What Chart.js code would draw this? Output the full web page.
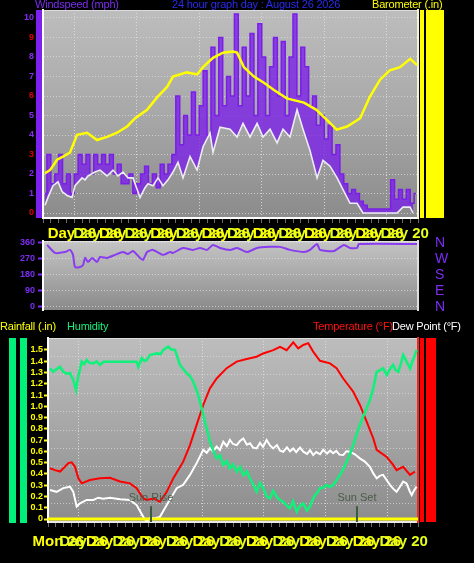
<!DOCTYPE html>
<html><head><meta charset="utf-8">
<script src="https://cdn.jsdelivr.net/npm/chart.js@4/dist/chart.umd.min.js"></script>
<style>
html,body{margin:0;padding:0;background:#000;width:474px;height:563px;overflow:hidden;position:relative;font-family:"Liberation Sans",Arial,sans-serif;}
canvas{position:absolute;left:0}
.t{position:absolute;font-size:11px;line-height:12px;white-space:nowrap;letter-spacing:-0.2px;z-index:5}
.s{position:absolute}
</style></head><body>
<div class="s" style="left:36px;top:10px;width:6px;height:208px;background:#7d22ee"></div>
<div class="s" style="left:420px;top:10px;width:24px;height:208px;background:#ffff00"></div>
<div class="s" style="left:424px;top:10px;width:2px;height:208px;background:#000"></div>
<div class="s" style="left:9px;top:338px;width:7px;height:185px;background:#00f07a"></div>
<div class="s" style="left:20px;top:338px;width:7px;height:185px;background:#00f07a"></div>
<div class="s" style="left:420px;top:338px;width:16px;height:184px;background:#ff0000"></div>
<div class="s" style="left:424px;top:338px;width:2px;height:184px;background:#000"></div>
<canvas id="cA" width="474" height="242" style="top:0"></canvas>
<canvas id="cB" width="474" height="80" style="top:236px"></canvas>
<canvas id="cC" width="474" height="233" style="top:330px"></canvas>
<div class="t" style="left:35px;top:-2px;color:#7b2cf0">Windspeed (mph)</div>
<div class="t" style="left:172px;top:-2px;color:#2a2af0">24 hour graph day : August 26 2026</div>
<div class="t" style="left:372px;top:-2px;color:#ffff00">Barometer (.in)</div>
<div class="t" style="left:0;top:320px;color:#ffff00">Rainfall (.in)</div>
<div class="t" style="left:67px;top:320px;color:#19f07e">Humidity</div>
<div class="t" style="left:313px;top:320px;color:#ff1010">Temperature (°F)</div>
<div class="t" style="left:392px;top:320px;color:#ffffff">Dew Point (°F)</div>
<script>
// ---------- DATA ----------
const baroHours = [0.13,0.45,0.9,1.28,1.73,2.18,2.82,3.46,4.1,4.74,5.38,5.9,6.66,7.3,7.94,8.32,9.2,9.86,10.24,10.88,11.52,12.16,12.42,12.86,13.5,14.14,14.78,15.6,16.7,17.5,17.98,18.18,18.8,19.46,20.1,20.3,20.9,21.57,22.2,22.85,23.5,23.94];
const baroValues = [29.843,29.846,29.856,29.859,29.863,29.880,29.882,29.875,29.878,29.882,29.888,29.896,29.904,29.916,29.926,29.936,29.940,29.938,29.945,29.954,29.959,29.960,29.959,29.945,29.936,29.930,29.923,29.915,29.911,29.904,29.897,29.894,29.885,29.888,29.894,29.896,29.916,29.933,29.942,29.945,29.953,29.947];

const windAvgHours = [0.13,0.32,0.64,0.96,1.22,1.54,1.86,2.05,2.5,2.69,2.88,3.33,3.65,4.1,4.48,4.8,5.12,5.44,5.76,6.21,6.53,6.72,7.04,7.36,7.68,8.0,8.32,8.64,8.96,9.41,9.86,10.24,10.69,10.88,11.33,11.97,12.42,12.8,13.25,13.7,14.08,14.53,14.98,15.36,15.81,16.26,16.64,17.09,17.54,17.92,18.37,18.82,19.2,19.65,20.1,20.48,21.38,22.21,22.66,23.04,23.49,23.68];
const windAvgValues = [0.4,0.8,1.4,1.6,1.1,0.9,0.8,1.4,1.8,1.7,1.9,2.1,2.2,1.9,2.2,1.9,2.1,1.8,1.8,0.8,1.3,1.5,1.4,1.8,1.4,1.7,2.1,2.6,1.8,2.9,2.2,3.4,4.1,3.1,4.4,4.3,3.9,4.6,3.9,4.6,3.9,4.3,3.6,4.3,3.9,5.3,4.3,3.2,1.8,2.7,2.4,1.8,1.2,0.5,0.5,0,0,0,0,0.3,0.3,0];

const gustValues = [
  1.0,3.0,1.5,2.0,3.0,1.5,2.0,1.0,
  2.0,3.0,2.5,3.0,2.0,3.0,2.5,3.0,
  2.5,3.0,2.0,2.5,1.5,1.5,2.0,1.0,
  1.5,2.0,2.4,1.5,2.0,1.3,2.5,2.0,
  2.5,3.0,6.0,3.5,5.0,4.0,6.2,4.0,
  5.5,7.3,4.0,8.5,5.0,9.0,5.5,7.0,
  6.0,10.2,5.5,8.5,6.0,9.2,5.0,9.7,
  8.0,5.0,7.5,9.0,6.0,8.8,5.0,8.0,
  10.2,6.0,8.5,7.5,5.5,6.0,4.5,5.0,
  3.8,4.5,3.0,3.5,2.0,1.5,1.0,1.2,
  1.0,0.6,0.4,0.2,0.2,0.2,0.2,0.2,
  0.2,1.7,0.7,1.2,0.7,1.2,0.5,1.0];
const gustHours = gustValues.map((_, i) => i * 0.25 + 0.125);

const dirHours = [0.26,0.77,1.41,1.73,1.92,2.05,2.37,2.56,2.69,2.88,3.14,3.46,3.65,4.1,4.61,5.12,5.44,5.76,6.21,6.4,6.66,7.04,7.68,8.13,8.32,8.96,9.6,10.05,10.5,10.88,11.33,11.97,12.42,13.06,13.7,14.53,15.17,15.81,16.7,17.09,17.54,17.73,18.62,19.26,19.65,20.1,20.22,23.94];
const dirValues = [349,304,309,321,293,225,225,236,276,253,276,253,281,276,293,309,298,315,276,264,309,321,293,309,304,332,321,332,321,349,332,321,332,309,332,338,338,321,309,321,354,321,315,349,332,332,354,354];

const tempHours = [0.13,0.45,0.78,1.1,1.32,1.54,1.75,1.97,2.19,2.72,3.37,4.02,4.67,5.32,5.75,6.18,6.4,6.83,7.26,7.7,8.13,8.77,9.21,9.64,10.07,10.5,10.94,11.59,12.24,12.89,13.53,13.96,14.61,15.05,15.48,15.91,16.23,16.56,16.88,17.2,17.64,18.29,18.72,19.15,19.8,20.23,20.67,21.1,21.32,21.97,22.39,22.61,23.04,23.48,23.8];
const tempValues = [54.6,54.1,53.7,55.0,56.0,56.2,55.0,51.9,50.5,51.4,51.9,52.0,51.0,50.5,49.2,46.4,46.0,46.4,45.5,48.2,51.9,56.4,60.9,66.4,71.8,76.3,79.0,81.8,83.6,84.3,84.9,85.8,86.7,87.6,86.7,88.8,87.2,88.1,88.6,86.3,83.8,83.1,81.8,79.0,75.4,71.8,67.3,62.7,59.6,57.7,55.5,54.1,55.0,52.8,53.7];

const dewHours = [0.13,0.56,0.99,1.43,1.64,1.86,2.08,2.51,2.94,3.26,3.59,4.02,4.67,5.32,5.75,6.18,6.4,6.61,6.94,7.26,7.7,8.35,8.77,9.21,9.64,10.07,10.3,10.5,10.7,10.94,11.15,11.37,11.6,11.8,12.0,12.24,12.45,12.67,12.9,13.1,13.3,13.53,13.75,13.95,14.18,14.4,14.61,14.85,15.05,15.26,15.5,15.7,15.91,16.1,16.35,16.56,16.8,17.0,17.2,17.4,17.65,17.85,18.1,18.3,18.5,18.7,18.9,19.15,19.35,19.58,19.9,20.23,20.55,20.88,21.1,21.32,21.54,21.74,21.96,22.18,22.4,22.61,22.82,23.04,23.26,23.45,23.59,23.75,23.91];
const dewValues = [48.7,48.2,49.2,49.6,48.2,44.2,45.1,46.0,46.0,46.6,46.3,46.6,46.2,46.0,44.6,41.4,40.1,41.0,41.0,41.4,44.6,49.2,50.1,52.8,56.0,59.6,58.8,60.0,59.2,60.5,59.6,61.8,60.6,62.3,61.2,60.9,62.0,62.7,61.0,61.4,60.2,60.0,61.5,60.4,62.3,60.8,60.0,60.9,59.4,59.1,60.3,59.2,60.0,59.0,60.2,59.1,58.5,59.5,58.2,59.0,58.4,59.6,58.6,59.4,58.7,59.3,58.3,58.2,59.2,59.1,58.4,57.3,56.4,55.0,53.2,51.9,52.6,52.8,51.4,50.1,49.0,48.2,49.5,51.0,50.5,48.5,47.3,48.6,49.6];

const humHours = [0.13,0.34,0.56,0.78,0.99,1.2,1.43,1.64,1.82,1.96,2.19,2.35,2.51,2.7,2.94,3.15,3.37,3.6,3.81,5.75,5.86,6.08,6.25,6.4,6.61,7.05,7.3,7.48,7.8,8.0,8.24,8.56,8.99,9.2,9.42,9.65,9.86,10.18,10.51,10.75,10.94,11.15,11.37,11.6,11.8,12.0,12.24,12.45,12.67,12.9,13.1,13.3,13.53,13.75,13.96,14.2,14.4,14.6,14.83,15.05,15.26,15.5,15.69,15.9,16.13,16.35,16.56,16.8,16.99,17.15,17.32,17.5,17.64,17.85,18.07,18.3,18.5,18.7,18.94,19.15,19.37,19.58,19.8,20.0,20.23,20.45,20.67,20.9,21.1,21.32,21.54,21.74,21.97,22.18,22.39,22.55,22.72,22.9,23.04,23.26,23.48,23.65,23.8,23.91];
const humValues = [86.8,85.3,86.5,87.5,85.3,84.5,84.7,81.7,77.4,83.2,89.7,88.6,90.4,89.2,89.0,89.8,88.3,89.7,89.7,89.7,87.5,91.2,90.0,90.4,92.6,93.3,93.0,94.8,96.2,95.0,94.8,88.3,84.7,83.5,81.0,77.0,72.3,63.6,54.9,50.5,47.7,49.0,44.8,46.5,43.3,45.0,41.9,44.0,40.4,42.0,39.0,36.5,33.2,37.0,34.7,31.0,30.3,33.5,31.0,29.5,28.8,27.0,26.0,29.0,24.5,27.0,28.1,25.0,26.7,29.5,31.7,33.0,34.7,35.0,36.1,35.2,36.1,38.0,40.4,43.0,46.2,49.5,53.5,57.8,62.2,66.0,69.4,73.5,78.1,85.3,86.0,86.8,83.9,86.5,88.3,86.0,85.3,89.0,92.6,89.7,86.8,90.0,92.6,94.8];

const rainHours = [0, 24];
const rainValues = [0, 0];

const sunTimes = [6.68, 20.04];
const sunLabels = ["Sun Rise", "Sun Set"];

const wsTicks = [0,1,2,3,4,5,6,7,8,9,10];
const rainTicks = [0,0.1,0.2,0.3,0.4,0.5,0.6,0.7,0.8,0.9,1.0,1.1,1.2,1.3,1.4,1.5];
const dirTicks = [0,90,180,270,360];
const dirLabels = ["N","E","S","W","N"];
const tempGridTicks = [45,50,55,60,65,70,75,80,85];
const gridHours = [2,6,10,14,18,22];
const topTickHours = [0.3,1.94,3.58,5.22,6.86,8.5,10.14,11.78,13.42,15.06,16.7,18.34,19.98,21.6];
const topLabels = ["Day 26","Day 26","Day 26","Day 26","Day 26","Day 26","Day 26","Day 26","Day 26","Day 26","Day 26","Day 26","Day 26","Day 20"];
const bottomTickHours = [-1.0,0.73,2.46,4.19,5.92,7.65,9.38,11.11,12.84,14.57,16.3,18.03,19.76,21.5];
const bottomLabels = ["Mon 26","Day 26","Day 26","Day 26","Day 26","Day 26","Day 26","Day 26","Day 26","Day 26","Day 26","Day 26","Day 26","Day 20"];

// ---------- HELPERS ----------
const pts = (xs, ys) => xs.map((x, i) => ({x: x, y: ys[i]}));
const halfHours = Array.from({length: 49}, (_, i) => i * 0.5);
const FONT = "'Liberation Sans', Arial, sans-serif";
const CLEAR = 'rgba(0,0,0,0)';

const bgPlugin = {
  id: 'bg',
  beforeDraw(chart, args, o) {
    const {ctx, chartArea: a} = chart;
    const g = ctx.createLinearGradient(0, a.top, 0, a.bottom);
    g.addColorStop(0, o.top); g.addColorStop(0.5, o.mid); g.addColorStop(1, o.bottom);
    ctx.save();
    ctx.fillStyle = g;
    ctx.fillRect(a.left, a.top, a.right - a.left, a.bottom - a.top);
    ctx.strokeStyle = o.edge; ctx.lineWidth = 1;
    ctx.beginPath(); ctx.moveTo(a.left, a.top + 0.5); ctx.lineTo(a.right, a.top + 0.5); ctx.stroke();
    ctx.restore();
  }
};

function labelAxis(hours, labels, h, pad) {
  return {
    type: 'linear', position: 'bottom', min: 0, max: 24, weight: 1,
    grid: {display: false}, border: {display: false},
    afterBuildTicks: s => { s.ticks = hours.map(v => ({value: v})); },
    afterFit: s => { s.height = h; },
    ticks: {
      autoSkip: false, maxRotation: 0, minRotation: 0, align: 'start', padding: pad,
      font: {family: FONT, size: 15, weight: 'bold'},
      color: c => (c.index % 2 ? '#e4ff1c' : '#ffff00'),
      callback: (v, i) => labels[i]
    }
  };
}
function gridAxis(borderColor) {
  return {
    type: 'linear', position: 'bottom', min: 0, max: 24, weight: 0,
    afterBuildTicks: s => { s.ticks = halfHours.map(v => ({value: v})); },
    afterFit: s => { s.height = 6; },
    ticks: {display: false, autoSkip: false},
    grid: {
      color: c => (c.tick && gridHours.includes(c.tick.value) ? 'rgba(225,225,225,0.85)' : CLEAR),
      lineWidth: 1, drawTicks: true, tickLength: 5, tickColor: '#6a6a6a'
    },
    border: {color: borderColor, width: 2, dash: [1, 2]}
  };
}
const common = {responsive: false, animation: false, events: [],
  plugins: {legend: {display: false}, tooltip: {enabled: false}}};

// ---------- CHART A: wind + barometer ----------
new Chart(document.getElementById('cA'), {
  type: 'line',
  plugins: [bgPlugin],
  data: {datasets: [
    {data: pts(baroHours, baroValues), yAxisID: 'baro', xAxisID: 'x', borderColor: '#ffff00', borderWidth: 2.5, pointRadius: 0, tension: 0},
    {data: pts(windAvgHours, windAvgValues), yAxisID: 'ws', xAxisID: 'x', borderColor: '#ececf4', borderWidth: 1.6, pointRadius: 0, tension: 0},
    {data: pts(gustHours, gustValues), yAxisID: 'ws', xAxisID: 'x', borderColor: '#7a1ee8', borderWidth: 1.5, pointRadius: 0, stepped: 'middle',
     fill: {target: 1}, backgroundColor: 'rgba(122,30,232,0.78)'}
  ]},
  options: Object.assign({}, common, {
    layout: {autoPadding: false, padding: {top: 10, left: 0, right: 0, bottom: 0}},
    plugins: Object.assign({}, common.plugins, {bg: {top: '#bdbdbd', mid: '#a8a8a8', bottom: '#8b8b8b', edge: '#dcdcdc'}}),
    scales: {
      x: labelAxis(topTickHours, topLabels, 18, -7),
      x2: gridAxis('#ffffff'),
      ws: {
        type: 'linear', position: 'left', min: -0.256, max: 10.41,
        afterBuildTicks: s => { s.ticks = wsTicks.map(v => ({value: v})); },
        afterFit: s => { s.width = 43; },
        ticks: {autoSkip: false, color: c => (c.index % 3 === 0 ? '#e00010' : '#8a2af5'),
                font: {family: FONT, size: 9, weight: 'bold', lineHeight: 0.6}, padding: 0},
        grid: {color: 'rgba(222,222,222,0.75)', drawTicks: true, tickLength: 9, tickColor: CLEAR},
        border: {color: '#ffffff', width: 2, dash: [1, 2]}
      },
      baro: {
        type: 'linear', position: 'right', min: 29.80, max: 30.00,
        afterFit: s => { s.width = 56; },
        ticks: {display: false},
        grid: {drawOnChartArea: false, drawTicks: false},
        border: {color: '#f4f4d0', width: 2}
      }
    }
  })
});

// ---------- CHART B: wind direction ----------
new Chart(document.getElementById('cB'), {
  type: 'line',
  plugins: [bgPlugin],
  data: {datasets: [
    {data: pts(dirHours, dirValues), yAxisID: 'dir', xAxisID: 'x', borderColor: '#8a3cf0', borderWidth: 2, pointRadius: 0, tension: 0.2}
  ]},
  options: Object.assign({}, common, {
    layout: {autoPadding: false, padding: {top: 5, bottom: 6, left: 0, right: 0}},
    plugins: Object.assign({}, common.plugins, {bg: {top: '#c4c4c4', mid: '#a9a9a9', bottom: '#8a8a8a', edge: '#e0e0e0'}}),
    scales: {
      x: {type: 'linear', min: 0, max: 24, display: false},
      dir: {
        type: 'linear', position: 'left', min: -17, max: 371,
        afterBuildTicks: s => { s.ticks = dirTicks.map(v => ({value: v})); },
        afterFit: s => { s.width = 43; },
        ticks: {autoSkip: false, color: '#7d2cf4', font: {family: FONT, size: 9, weight: 'bold', lineHeight: 0.4}, padding: 3},
        grid: {color: 'rgba(226,226,226,0.7)', tickLength: 5, tickColor: '#7d2cf4', tickWidth: 2},
        border: {color: '#ffffff', width: 2, dash: [1, 2]}
      },
      dirR: {
        type: 'linear', position: 'right', min: -17, max: 371,
        afterBuildTicks: s => { s.ticks = dirTicks.map(v => ({value: v})); },
        afterFit: s => { s.width = 56; },
        ticks: {autoSkip: false, color: '#7d2cf4', font: {family: FONT, size: 14, lineHeight: 0.4}, padding: 1, callback: (v, i) => dirLabels[i]},
        grid: {drawOnChartArea: false, drawTicks: true, tickLength: 16, tickColor: CLEAR},
        border: {color: '#dddddd', width: 2}
      }
    }
  })
});

// ---------- CHART C: rain / humidity / temperature / dew point ----------
const sunTextPlugin = {
  id: 'sunText',
  afterDatasetsDraw(chart) {
    const {ctx} = chart; const xs = chart.scales.x; const ts = chart.scales.temp;
    ctx.save();
    ctx.font = "11px " + FONT; ctx.fillStyle = '#4a5c4a'; ctx.textAlign = 'center'; ctx.textBaseline = 'middle';
    sunTimes.forEach((t, i) => ctx.fillText(sunLabels[i], xs.getPixelForValue(t), ts.getPixelForValue(46.5)));
    ctx.restore();
  }
};
const sunSets = sunTimes.map(t => ({data: [{x: t, y: 40}, {x: t, y: 44.3}], yAxisID: 'temp', xAxisID: 'x', borderColor: '#3c5a3c', borderWidth: 2, pointRadius: 0}));
new Chart(document.getElementById('cC'), {
  type: 'line',
  plugins: [bgPlugin, sunTextPlugin],
  data: {datasets: sunSets.concat([
    {data: pts(rainHours, rainValues), yAxisID: 'rain', xAxisID: 'x', borderColor: '#ffff00', borderWidth: 3, pointRadius: 0},
    {data: pts(humHours, humValues), yAxisID: 'hum', xAxisID: 'x', borderColor: '#12f07c', borderWidth: 2.6, pointRadius: 0},
    {data: pts(dewHours, dewValues), yAxisID: 'temp', xAxisID: 'x', borderColor: '#ffffff', borderWidth: 2, pointRadius: 0},
    {data: pts(tempHours, tempValues), yAxisID: 'temp', xAxisID: 'x', borderColor: '#ff0000', borderWidth: 2, pointRadius: 0}
  ])},
  options: Object.assign({}, common, {
    layout: {autoPadding: false, padding: {top: 8, bottom: 0, left: 0, right: 0}},
    plugins: Object.assign({}, common.plugins, {bg: {top: '#bdbdbd', mid: '#a6a6a6', bottom: '#8c8c8c', edge: '#dcdcdc'}}),
    scales: {
      x: labelAxis(bottomTickHours, bottomLabels, 35, -3),
      x2: gridAxis('#e8e8e8'),
      rain: {
        type: 'linear', position: 'left', min: -0.0266, max: 1.606,
        afterBuildTicks: s => { s.ticks = rainTicks.map(v => ({value: v})); },
        afterFit: s => { s.width = 48; },
        ticks: {autoSkip: false, color: '#ffff00', font: {family: FONT, size: 9, weight: 'bold', lineHeight: 0.6}, padding: 1,
                callback: v => (v === 0 ? '0' : v.toFixed(1))},
        grid: {drawOnChartArea: false, tickLength: 4, tickColor: '#ffff00', tickWidth: 2},
        border: {color: '#ffffff', width: 2}
      },
      hum: {type: 'linear', display: false, min: 20, max: 100},
      temp: {
        type: 'linear', position: 'right', min: 40, max: 90,
        afterBuildTicks: s => { s.ticks = tempGridTicks.map(v => ({value: v})); },
        afterFit: s => { s.width = 56; },
        ticks: {display: false},
        grid: {color: 'rgba(222,222,222,0.7)', drawTicks: false},
        border: {color: '#ff2020', width: 2, dash: [1, 2]}
      }
    }
  })
});
</script>
</body></html>
